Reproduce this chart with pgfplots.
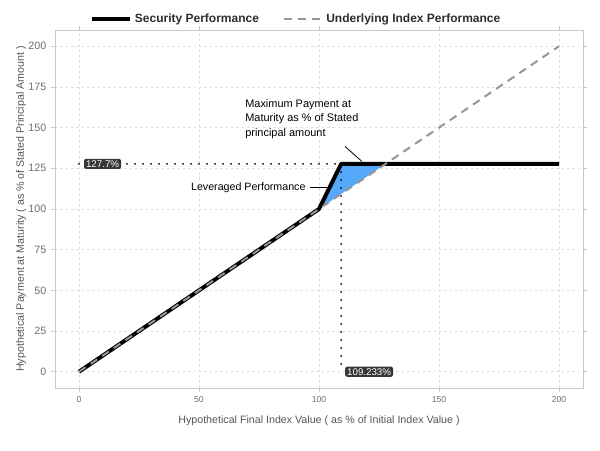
\documentclass[border=0pt]{standalone}
\usepackage{fontspec}
\setmainfont{Liberation Sans}
\usepackage{pgfplots}
\pgfplotsset{compat=1.18}

\definecolor{levblue}{RGB}{85,168,250}
\definecolor{idxgray}{RGB}{150,150,150}
\definecolor{gridgray}{RGB}{225,225,225}
\definecolor{framegray}{RGB}{200,200,200}
\definecolor{labgray}{RGB}{85,85,85}
\definecolor{leggray}{RGB}{45,45,45}
\definecolor{tickgray}{RGB}{110,110,110}
\definecolor{boxgray}{RGB}{55,55,55}

\begin{document}
\begin{tikzpicture}
% page = 600 x 450 px, 1px = 0.75pt, panel from (55,30) to (583,388)
\path[use as bounding box] (-41.25pt,-46.5pt) rectangle (408.75pt,291pt);
\begin{axis}[
    at={(0,0)}, anchor=south west,
    scale only axis,
    width=396pt, height=268.5pt,
    xmin=-10, xmax=210,
    ymin=-10, ymax=210,
    xtick={0,50,100,150,200},
    ytick={0,25,50,75,100,125,150,175,200},
    grid=major,
    major grid style={gridgray, dash pattern=on 2pt off 2pt, line width=0.4pt},
    axis line style={framegray, line width=0.6pt},
    tick align=outside,
    major tick length=3pt,
    tick style={framegray, line width=0.5pt},
    xticklabel style={font=\fontsize{6.5}{7}\selectfont, text=tickgray},
    yticklabel style={font=\fontsize{8}{9}\selectfont, text=tickgray},
    /pgf/number format/assume math mode=true,
    xlabel={Hypothetical Final Index Value ( as \% of Initial Index Value )},
    ylabel={Hypothetical Payment at Maturity ( as \% of Stated Principal Amount )},
    xlabel style={font=\fontsize{8}{9}\selectfont, text=labgray},
    ylabel style={font=\fontsize{8}{9}\selectfont, text=labgray},
    xlabel shift=2.5pt,
    ylabel shift=-5pt,
    legend columns=2,
    legend style={
        at={(0.457,1.0)}, anchor=south, yshift=0pt,
        draw=none, fill=none,
        font=\fontsize{9}{10}\selectfont\bfseries,
        text=leggray,
        /tikz/every even column/.append style={column sep=16pt},
    },
    legend image code/.code={\draw[#1] (0pt,0pt) -- (29pt,0pt);},
    clip=false,
]
% leveraged area between the two lines
\addplot[fill=levblue, draw=none, forget plot]
    coordinates {(100,100) (109.233,127.7) (127.7,127.7) (100,100)} -- cycle;

% dotted guides
\addplot[black, line width=1.5pt, line cap=round, dash pattern=on 0pt off 6pt, forget plot]
    coordinates {(0,127.7) (109.233,127.7)};
\addplot[black, line width=1.5pt, line cap=round, dash pattern=on 0pt off 6pt, forget plot]
    coordinates {(109.233,127.7) (109.233,0)};

\addplot[black, line width=3pt, line join=round]
    coordinates {(0,0) (100,100) (109.233,127.7) (200,127.7)};
\addlegendentry{Security Performance}

\addplot[idxgray, line width=1.5pt, dash pattern=on 6pt off 4.5pt]
    coordinates {(0,0) (200,200)};
\addlegendentry{Underlying Index Performance}

% annotation pointers
\draw[black, line width=0.6pt] (axis cs:110.8,138.5) -- (axis cs:117.9,129.2);
\draw[black, line width=0.6pt] (axis cs:96.3,113.2) -- (axis cs:103.3,113.2);

\node[anchor=north west, align=left, font=\fontsize{8.2}{10.9}\selectfont, inner sep=0pt]
    at (axis cs:69.2,167.5) {Maximum Payment at\\Maturity as \% of Stated\\principal amount};
\node[anchor=east, font=\fontsize{8}{9}\selectfont, inner sep=0pt]
    at (axis cs:94.5,113.2) {Leveraged Performance};

\node[anchor=west, fill=boxgray, text=white, rounded corners=1.5pt, inner xsep=1.5pt, inner ysep=1.2pt,
      font=\fontsize{7.3}{8}\selectfont] at (axis cs:2,127.7) {127.7\%};
\node[anchor=west, fill=boxgray, text=white, rounded corners=1.5pt, inner xsep=1.5pt, inner ysep=1.2pt,
      font=\fontsize{7.3}{8}\selectfont] at (axis cs:110.8,0) {109.233\%};
\end{axis}
\end{tikzpicture}
\end{document}
